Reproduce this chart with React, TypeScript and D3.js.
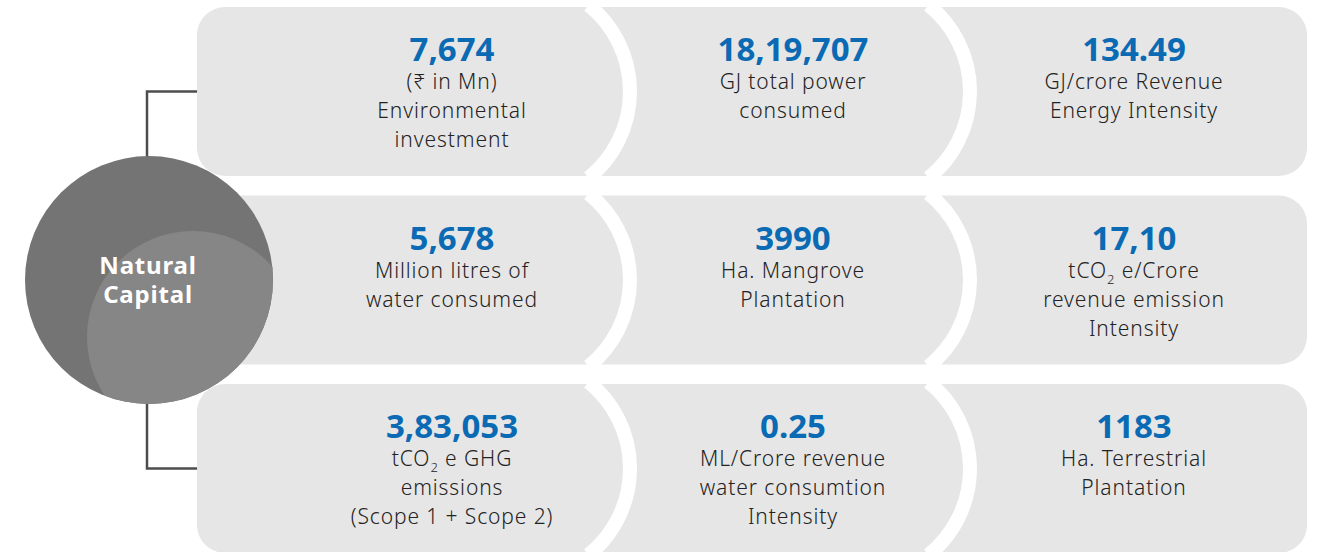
import React from "react";
import * as d3 from "d3";

const W = 1328;
const H = 552;

const hubTitle = ["Natural", "Capital"];
const rowIds = ["r1", "r2", "r3"];
const colIds = ["c1", "c2", "c3"];

const values = [
  ["7,674", "18,19,707", "134.49"],
  ["5,678", "3990", "17,10"],
  ["3,83,053", "0.25", "1183"],
];

const labels = [
  [
    ["(₹ in Mn)", "Environmental", "investment"],
    ["GJ total power", "consumed"],
    ["GJ/crore Revenue", "Energy Intensity"],
  ],
  [
    ["Million litres of", "water consumed"],
    ["Ha. Mangrove", "Plantation"],
    ["tCO_2 e/Crore", "revenue emission", "Intensity"],
  ],
  [
    ["tCO_2 e GHG", "emissions", "(Scope 1 + Scope 2)"],
    ["ML/Crore revenue", "water consumtion", "Intensity"],
    ["Ha. Terrestrial", "Plantation"],
  ],
];

const BLUE = "#0a6ab3";
const TEXT = "#232323";
const CELL = "#e6e6e6";

// layout
const rowTop = d3.scaleLinear().domain([0, 2]).range([7, 384]);
const rowH = 169;
const rowLeft = 197;
const rowRight = 1307;
const colCenter = d3.scaleLinear().domain([0, 2]).range([452, 1134]);
const sepX = d3.scaleLinear().domain([0, 1]).range([630, 970]);
const sepR = 111;

const labelFont = {
  fontSize: 21,
  fontFamily: "'Noto Sans', sans-serif",
  fontWeight: 300,
  letterSpacing: 0.9,
};

function Label({ text, x, y }: { text: string; x: number; y: number }) {
  if (text.includes("_2")) {
    const [a, b] = text.split("_2");
    return (
      <text x={x} y={y} textAnchor="middle" fill={TEXT} {...labelFont}>
        {a}
        <tspan fontSize={13} dy={6}>2</tspan>
        <tspan dy={-6}>{b}</tspan>
      </text>
    );
  }
  return (
    <text x={x} y={y} textAnchor="middle" fill={TEXT} {...labelFont}>
      {text}
    </text>
  );
}

function sepPath(xm: number, top: number) {
  const mid = top + rowH / 2;
  const h = rowH / 2 + 2;
  const cx = xm - sepR;
  const dx = Math.sqrt(sepR * sepR - h * h);
  const p = d3.path();
  p.moveTo(cx + dx, mid - h);
  const a0 = Math.atan2(-h, dx);
  const a1 = Math.atan2(h, dx);
  p.arc(cx, mid, sepR, a0, a1, false);
  return p.toString();
}

export default function App() {
  const circle = { cx: 149, cy: 280, r: 124 };
  const inner = { cx: 193, cy: 337, r: 106 };
  const lineX = 147;
  const r1mid = rowTop(0) + rowH / 2;
  const r3mid = rowTop(2) + rowH / 2;
  return (
    <svg width={W} height={H} style={{ position: "absolute", left: 0, top: 0, display: "block" }}>
      <rect width={W} height={H} fill="#ffffff" />
      {rowIds.map((rid, j) => {
        const top = rowTop(j);
        return (
          <g key={rid}>
            <rect x={rowLeft} y={top} width={rowRight - rowLeft} height={rowH} rx={28} ry={28} fill={CELL} />
            {[0, 1].map((i) => (
              <path key={i} d={sepPath(sepX(i), top)} fill="none" stroke="#ffffff" strokeWidth={14} />
            ))}
          </g>
        );
      })}
      <path
        d={`M${rowLeft},${r1mid}H${lineX}V${circle.cy}M${lineX},${circle.cy}V${r3mid}H${rowLeft}`}
        fill="none"
        stroke="#4d4d4d"
        strokeWidth={2.5}
      />
      <defs>
        <clipPath id="hubclip">
          <circle cx={circle.cx} cy={circle.cy} r={circle.r} />
        </clipPath>
      </defs>
      <circle cx={circle.cx} cy={circle.cy} r={circle.r} fill="#747474" />
      <circle cx={inner.cx} cy={inner.cy} r={inner.r} fill="#868686" clipPath="url(#hubclip)" />
      {hubTitle.map((t, k) => (
        <text
          key={t}
          x={148}
          y={274 + k * 29}
          textAnchor="middle"
          fill="#ffffff"
          fontSize={24}
          fontWeight={700}
          letterSpacing={0.8}
          fontFamily="'Noto Sans', sans-serif"
        >
          {t}
        </text>
      ))}
      {rowIds.map((rid, j) =>
        colIds.map((cid, i) => {
          const top = rowTop(j);
          const x = colCenter(i);
          return (
            <g key={rid + cid}>
              <text
                x={x}
                y={top + 54}
                textAnchor="middle"
                fill={BLUE}
                fontSize={33}
                fontWeight={700}
                fontFamily="'Noto Sans', sans-serif"
              >
                {values[j][i]}
              </text>
              {labels[j][i].map((l, k) => (
                <Label key={k} text={l} x={x} y={top + 82 + k * 29} />
              ))}
            </g>
          );
        })
      )}
    </svg>
  );
}
